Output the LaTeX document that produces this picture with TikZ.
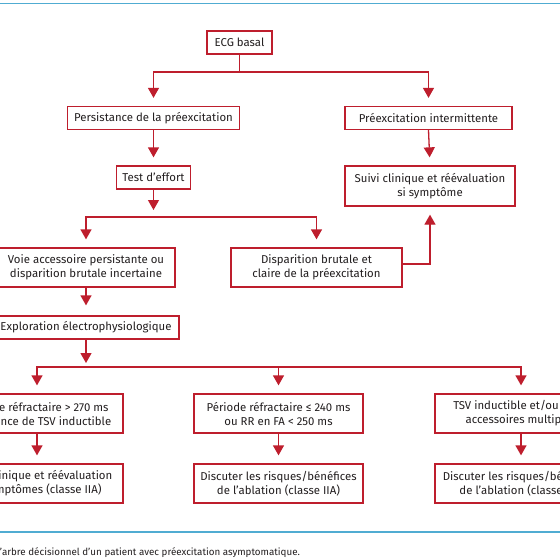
\documentclass[tikz,border=0pt]{standalone}
\usepackage{fontspec}
\setmainfont{Fira Sans}
\usetikzlibrary{arrows.meta}
\definecolor{cred}{RGB}{190,30,45}
\definecolor{cblue}{RGB}{80,172,210}
\definecolor{ctext}{RGB}{35,31,32}
\begin{document}
\begin{tikzpicture}[x=1pt,y=-1pt,
  box/.style={draw=cred, line width=1.3pt, fill=white, text=ctext, align=center, inner sep=0pt,
              font=\fontsize{11.4}{14}\selectfont},
  onebox/.style={box, minimum height=23pt},
  twobox/.style={box, minimum height=39pt},
  arr/.style={draw=cred, line width=1.3pt, -{Triangle[width=11pt,length=10pt]}, shorten >=8pt},
  ln/.style={draw=cred, line width=1.3pt},
  rule/.style={draw=cblue, line width=1.8pt}]
\path[use as bounding box, clip] (0,0) rectangle (560,560);
\fill[white] (0,0) rectangle (560,560);
\draw[rule] (0,3.5) -- (560,3.5);
\draw[rule] (0,532) -- (560,532);

\node[onebox, minimum width=65pt] (ecg) at (239.5,42.5) {ECG basal};
\node[onebox, minimum width=172pt] (pers) at (153.5,118) {Persistance de la préexcitation};
\node[onebox, minimum width=167pt] (inter) at (428.5,118) {Préexcitation intermittente};
\node[onebox, minimum width=74pt] (test) at (153.5,177.5) {Test d’effort};
\node[twobox, minimum width=170pt, minimum height=40pt] (suivi) at (430,186) {Suivi clinique et réévaluation\\si symptôme};
\node[twobox, minimum width=178pt] (voie) at (86,267.5) {Voie accessoire persistante ou\\disparition brutale incertaine};
\node[twobox, minimum width=171pt] (disp) at (316.5,267.5) {Disparition brutale et\\claire de la préexcitation};
\node[onebox, minimum width=186pt] (expl) at (86,327.5) {Exploration électrophysiologique};
\node[twobox, minimum width=172pt] (r1a) at (37,413.5) {Période réfractaire > 270 ms\\et absence de TSV inductible};
\node[twobox, minimum width=169pt] (r1b) at (278.5,413.5) {Période réfractaire ≤ 240 ms\\ou RR en FA < 250 ms};
\node[twobox, minimum width=172pt] (r1c) at (521,413.5) {TSV inductible et/ou voies\\accessoires multiples};
\node[twobox, minimum width=172pt] (r2a) at (37,483.5) {Suivi clinique et réévaluation\\si symptômes (classe IIA)};
\node[twobox, minimum width=169pt] (r2b) at (278.5,483.5) {Discuter les risques/bénéfices\\de l’ablation (classe IIA)};
\node[twobox, minimum width=172pt] (r2c) at (521,483.5) {Discuter les risques/bénéfices\\de l’ablation (classe IIA)};

\node[anchor=base west, inner sep=0pt, text=ctext, font=\fontsize{9.8}{12}\selectfont] (cap) at (-3,555)
  {l’arbre décisionnel d’un patient avec préexcitation asymptomatique.};

\coordinate (b1) at (239.5,72);
\coordinate (b2) at (153.5,217);
\coordinate (b3) at (86,367);

\draw[ln] (ecg.south) -- (b1);
\draw[arr] (b1) -| (pers.north);
\draw[arr] (b1) -| (inter.north);
\draw[arr] (pers.south) -- (test.north);
\draw[arr] (inter.south) -- (suivi.north);
\draw[arr, shorten >=7pt] (test.south) -- (b2);
\draw[arr] (b2) -| (voie.north);
\draw[arr] (b2) -| (disp.north);
\draw[arr] ([yshift=3.5pt]disp.east) -| (suivi.south);
\draw[arr, shorten >=10pt] (voie.south) -- (expl.north);
\draw[arr, shorten >=4pt] (expl.south) -- (b3);
\draw[arr] (b3) -| (r1a.north);
\draw[arr] (b3) -| (r1b.north);
\draw[arr] (b3) -| (r1c.north);
\draw[arr] (r1a.south) -- (r2a.north);
\draw[arr] (r1b.south) -- (r2b.north);
\draw[arr] (r1c.south) -- (r2c.north);
\end{tikzpicture}
\end{document}
